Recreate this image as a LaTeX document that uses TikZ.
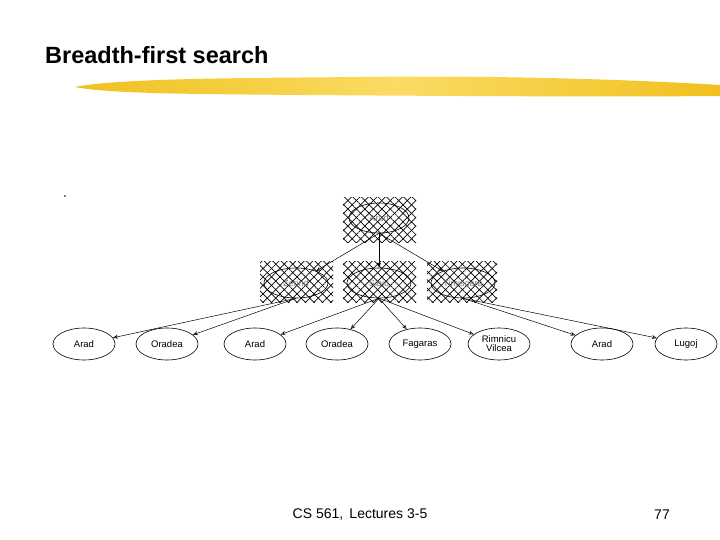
\documentclass[tikz,border=0pt]{standalone}
\usepackage{fontspec}
\setmainfont{Liberation Sans}
\usetikzlibrary{shapes.geometric,arrows.meta,patterns.meta}
\definecolor{hl}{RGB}{240,192,30}
\definecolor{hl2}{RGB}{250,220,100}
\tikzset{
  leaf/.style={draw, ellipse, minimum width=62pt, minimum height=32pt, inner sep=0pt, font=\fontsize{9.5}{10}\selectfont, align=center, line width=0.6pt},
  hnode/.style={draw, ellipse, minimum width=64pt, minimum height=30pt, inner sep=0pt, font=\fontsize{9}{10}\selectfont, text=black!55, line width=0.6pt},
  hatchA/.style={pattern={Lines[angle=45,distance=6pt,line width=0.7pt]}},
  hatchB/.style={pattern={Lines[angle=-45,distance=6pt,line width=0.7pt]}},
  edge/.style={-{Stealth[length=5pt,width=4pt,open]}, line width=0.5pt}
}
\begin{document}
\begin{tikzpicture}[x=1pt,y=-1pt]
\useasboundingbox (0,0) rectangle (720,540);
% title
\node[anchor=west, inner sep=0pt, font=\fontsize{23.5}{26}\selectfont\bfseries] (title) at (45,55) {Breadth-first search};
% highlighter stroke
\shade[left color=hl, right color=hl, middle color=hl2]
  (75,87) .. controls (120,78) and (250,78) .. (360,77)
  .. controls (500,75) and (640,80) .. (720,85)
  -- (720,96) .. controls (600,97) and (450,96) .. (300,95)
  .. controls (200,94) and (110,94) .. (75,87) -- cycle;
% dot
\fill (65,196) circle (0.9);
% hatch backgrounds
\foreach \a/\b/\c/\d in {343/198/416/242, 260/261/333/302, 343/261/416/302, 427/261/497/302}{
  \path[hatchA] (\a,\b) rectangle (\c,\d);
  \path[hatchB] (\a,\b) rectangle (\c,\d);
}
% nodes
\node[hnode, minimum width=60pt, minimum height=30pt] (r) at (379,218) {Arad};
\node[hnode] (z) at (296,283) {Zerind};
\node[hnode] (s) at (379,283) {Sibiu};
\node[hnode] (t) at (463,283) {Timisoara};
\node[leaf] (l1) at (84,344) {Arad};
\node[leaf] (l2) at (167,344) {Oradea};
\node[leaf] (l3) at (255,344) {Arad};
\node[leaf] (l4) at (337,344) {Oradea};
\node[leaf] (l5) at (420,344) {Fagaras};
\node[leaf] (l6) at (499,344) {Rimnicu\\[-1pt]Vilcea};
\node[leaf] (l7) at (602,344) {Arad};
\node[leaf] (l8) at (686,344) {Lugoj};
% edges
\draw[edge] (r.south) -- (z);
\draw[edge] (r.south) -- (s);
\draw[edge] (r.south) -- (t);
\draw[edge] (z.south) -- (l1);
\draw[edge] (z.south) -- (l2);
\draw[edge] (s.south) -- (l3);
\draw[edge] (s.south) -- (l4);
\draw[edge] (s.south) -- (l5);
\draw[edge] (s.south) -- (l6);
\draw[edge] (t.south) -- (l7);
\draw[edge] (t.south) -- (l8);
% footer
\node[font=\fontsize{14}{16}\selectfont] (foot) at (360,515) {CS 561,\, Lectures 3-5};
\node[font=\fontsize{14}{16}\selectfont] (pg) at (662,515) {77};
\end{tikzpicture}
\end{document}
